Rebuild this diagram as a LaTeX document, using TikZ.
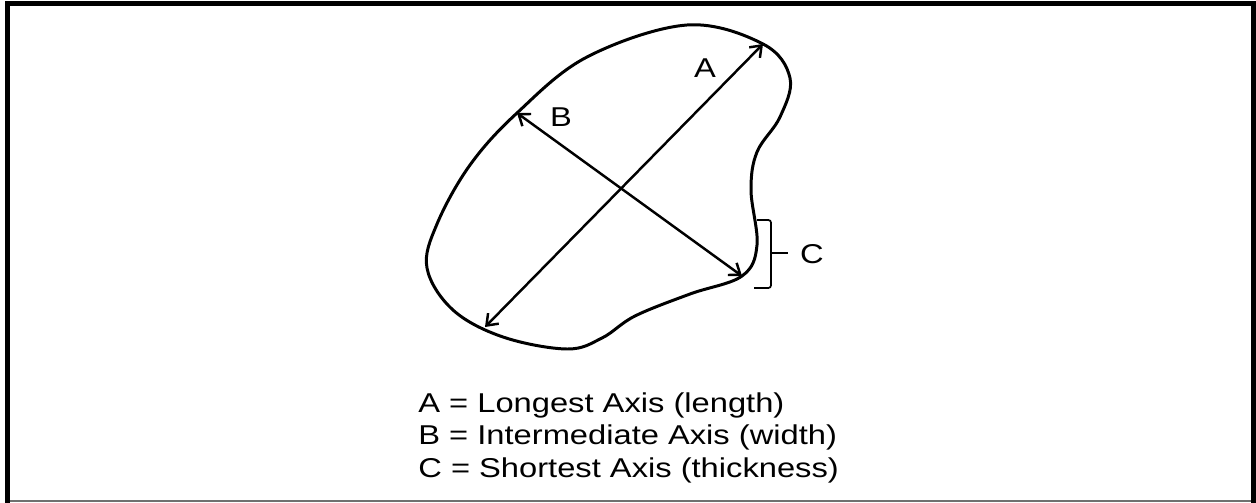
\documentclass[tikz,border=0pt]{standalone}
\usepackage{fontspec}
\setmainfont[FakeStretch=1.2]{Liberation Sans}
\usepackage{tikz}
\usetikzlibrary{arrows.meta}
\definecolor{edgegray}{HTML}{707070}

\begin{document}
\begin{tikzpicture}[
  x=0.02cm,y=-0.02cm,
  font=\fontsize{15.5}{18.7}\selectfont,
  outline/.style={draw=black,line width=1.7pt,line join=round},
  axis/.style={{Straight Barb[length=2mm,width=3mm]}-{Straight Barb[length=2mm,width=3mm]},line width=1.4pt},
  bracket/.style={draw=black,line width=1pt,rounded corners=1.5pt},
  lbl/.style={inner sep=0pt,anchor=center},
]
\useasboundingbox (0,0) rectangle (1256,503);
% frame
\draw[edgegray,line width=0.6pt] (7.5,501) -- (1253.5,501);
\draw[line width=2.8pt,line cap=rect] (7.5,501) -- (7.5,3.5) -- (1253.5,3.5) -- (1253.5,501);
% grain outline
\draw[outline] plot[smooth cycle,tension=0.6] coordinates {
  (687,25) (763,44) (790,78) (780,117) (757,152) (751,190) (757,245)
  (742,276) (690,294) (635,316) (602,338) (567,349) (503,337) (453,310)
  (427,268) (437,224) (470,165) (517,113) (587,57)};
% axis ends on the outline
\coordinate (a1) at (485,327);
\coordinate (a2) at (763,44);
\coordinate (b1) at (517,113);
\coordinate (b2) at (742,276);
\draw[axis] (a1) -- (a2);
\draw[axis] (b1) -- (b2);
\node[lbl] (la) at (705,68) {A};
\node[lbl] (lb) at (561,117) {B};
% thickness bracket
\coordinate (c1) at (757,220);
\coordinate (c2) at (754,288);
\coordinate (cm) at (771,253);
\draw[bracket] (c1) -- (cm |- c1) -- (cm |- c2) -- (c2);
\draw[bracket] (cm) -- ++(17,0) coordinate (ct);
\node[lbl] (lc) at (812,254) {C};
% legend
\node[anchor=north west,align=left,inner sep=0pt] (key) at (418,392) {%
A = Longest Axis (length)\\
B = Intermediate Axis (width)\\
C = Shortest Axis (thickness)};
\end{tikzpicture}
\end{document}
